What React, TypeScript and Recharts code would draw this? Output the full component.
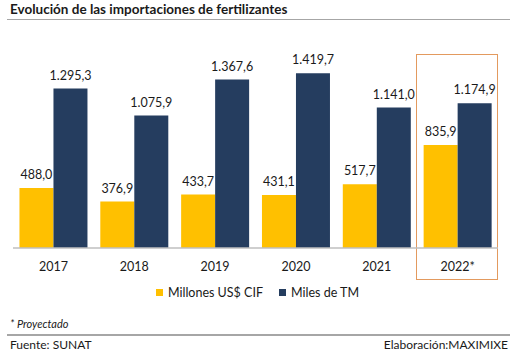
import React from "react";
import { BarChart, Bar, XAxis, YAxis, LabelList } from "recharts";

const years = ["2017", "2018", "2019", "2020", "2021", "2022*"];
const millonesCIF = [488.0, 376.9, 433.7, 431.1, 517.7, 835.9];
const milesTM = [1295.3, 1075.9, 1367.6, 1419.7, 1141.0, 1174.9];

const data = years.map((y, i) => ({ year: y, cif: millonesCIF[i], tm: milesTM[i] }));

const fmt = (v: any) => {
  const n = Number(v);
  const [int, dec] = n.toFixed(1).split(".");
  return int.replace(/\B(?=(\d{3})+(?!\d))/g, ".") + "," + dec;
};

const FONT = "Lato, 'Open Sans', sans-serif";
const YELLOW = "#FFC000";
const NAVY = "#253D5F";

export default function App() {
  return (
    <div style={{ position: "absolute", left: 0, top: 0, width: 515, height: 359, background: "#fff", fontFamily: FONT, color: "#1a1a1a" }}>
      <div style={{ position: "absolute", left: 10, top: 1, fontSize: 13.5, fontWeight: 700, whiteSpace: "nowrap" }}>
        Evolución de las importaciones de fertilizantes
      </div>
      <div style={{ position: "absolute", left: 7, top: 19, width: 503, height: 1, background: "#a6a6a6" }} />
      <div style={{ position: "absolute", left: 416, top: 54, width: 80, height: 224, border: "1.3px solid #E39A5E" }} />
      <div style={{ position: "absolute", left: 0, top: 0 }}>
        <BarChart width={515} height={359} data={data} margin={{ top: 51, right: 17, left: 13, bottom: 81 }} barCategoryGap="8%" barGap={0}>
          <YAxis hide domain={[0, 1600]} />
          <XAxis dataKey="year" height={30} tickLine={false} axisLine={{ stroke: "#bfbfbf", strokeWidth: 1.3 }} tick={{ fill: "#1a1a1a", fontSize: 12.5, fontFamily: FONT }} tickMargin={8} />
          <Bar dataKey="cif" fill={YELLOW} isAnimationActive={false}>
            <LabelList dataKey="cif" position="top" offset={9} formatter={fmt} style={{ fill: "#1a1a1a", fontSize: 12.5, fontFamily: FONT }} />
          </Bar>
          <Bar dataKey="tm" fill={NAVY} isAnimationActive={false}>
            <LabelList dataKey="tm" position="top" offset={9} formatter={fmt} style={{ fill: "#1a1a1a", fontSize: 12.5, fontFamily: FONT }} />
          </Bar>
        </BarChart>
      </div>
      <div style={{ position: "absolute", left: 0, top: 285, width: 515, display: "flex", justifyContent: "center", fontSize: 12.5, whiteSpace: "nowrap" }}>
        <span style={{ display: "inline-flex", alignItems: "center", marginRight: 16 }}>
          <span style={{ width: 7, height: 7, background: YELLOW, marginRight: 5 }} />Millones US$ CIF
        </span>
        <span style={{ display: "inline-flex", alignItems: "center" }}>
          <span style={{ width: 7, height: 7, background: NAVY, marginRight: 5 }} />Miles de TM
        </span>
      </div>
      <div style={{ position: "absolute", left: 10, top: 317, fontSize: 11, fontStyle: "italic" }}>* Proyectado</div>
      <div style={{ position: "absolute", left: 7, top: 334, width: 503, height: 2, background: "#a6a6a6" }} />
      <div style={{ position: "absolute", left: 10, top: 337, fontSize: 12 }}>Fuente: SUNAT</div>
      <div style={{ position: "absolute", right: 7, top: 337, fontSize: 12 }}>Elaboración:MAXIMIXE</div>
    </div>
  );
}
